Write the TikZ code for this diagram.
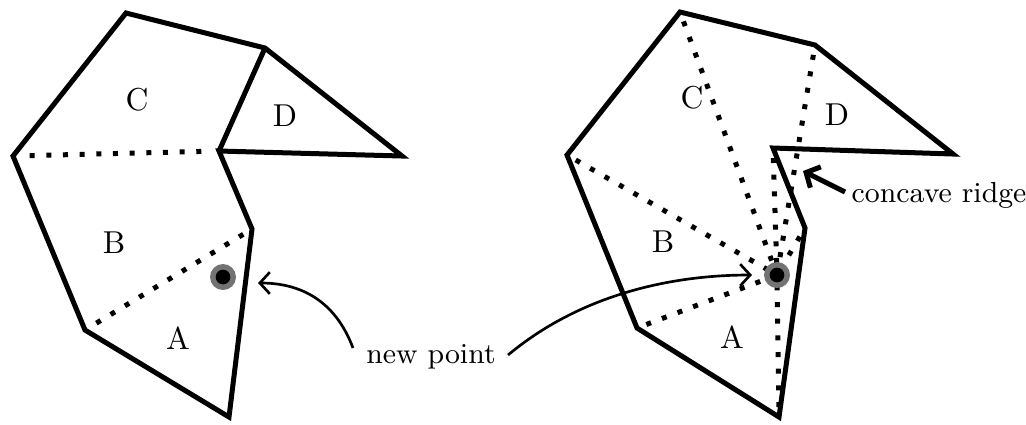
\documentclass[tikz,border=0pt]{standalone}
\usetikzlibrary{arrows.meta}

\begin{document}
\begin{tikzpicture}[
    x=0.3pt, y=-0.3pt,
    font=\fontsize{8.7}{10}\selectfont,
    edge/.style={line width=1.5pt, line join=miter},
    ridge/.style={line width=1.5pt, dash pattern=on 1.5pt off 3.5pt},
    lbl/.style={inner sep=0pt, font=\fontsize{9.5}{11}\selectfont},
    note/.style={inner sep=0pt, anchor=base},
    halo/.style={fill=black!55},
    arr/.style={-{Straight Barb[length=3pt, width=6.5pt]}, line width=0.8pt},
    thickarr/.style={-{Straight Barb[length=3.2pt, width=7pt]}, line width=1.5pt},
]
\useasboundingbox (0,0) rectangle (1026,424);

% left: before insertion
\coordinate (lp1) at (126,13);
\coordinate (lp2) at (265,48);
\coordinate (ltip) at (402,156);
\coordinate (lk) at (219,151);
\coordinate (lr) at (252,229);
\coordinate (lbot) at (229,417);
\coordinate (ll2) at (85,330);
\coordinate (ll1) at (13,156);
\coordinate (lq) at (223,277);

\draw[edge] (lp1) -- (lp2) -- (ltip) -- (lk) -- (lr) -- (lbot) -- (ll2) -- (ll1) -- cycle;
\draw[edge] (lp2) -- (lk);
\draw[ridge, shorten <=5pt, shorten >=4pt] (ll1) -- (lk);
\draw[ridge, shorten <=4pt, shorten >=3pt] (ll2) -- (lr);

\fill[halo] (lq) circle (3.9pt);
\fill (lq) circle (2.2pt);

\node[lbl] (lc) at (137,100) {C};
\node[lbl] (ld) at (285,116) {D};
\node[lbl] (lb) at (114,243) {B};
\node[lbl] (la) at (178,338) {A};

% right: after insertion
\coordinate (rp1) at (680,12);
\coordinate (rp2) at (815,45);
\coordinate (rtip) at (953,154);
\coordinate (rk) at (773,148);
\coordinate (rr) at (805,228);
\coordinate (rbot) at (779,417);
\coordinate (rl2) at (637,328);
\coordinate (rl1) at (567,155);
\coordinate (rq) at (777,275);

\draw[edge] (rp1) -- (rp2) -- (rtip) -- (rk) -- (rr) -- (rbot) -- (rl2) -- (rl1) -- cycle;
\foreach \v in {rp1, rp2, rk, rr, rbot, rl2, rl1}
  \draw[ridge, shorten <=3pt] (\v) -- (rq);

\fill[halo] (rq) circle (3.9pt);
\fill (rq) circle (2.2pt);

\node[lbl] (rc) at (692,98) {C};
\node[lbl] (rd) at (837,115) {D};
\node[lbl] (rb) at (663,242) {B};
\node[lbl] (ra) at (732,337) {A};

% annotations
\node[note] (newpt) at (431,363) {new point};
\coordinate (newl) at (353,348);
\coordinate (newr) at (508,355);
\draw[arr] (newl) .. controls (335,300) and (300,283) .. (258,283);
\draw[arr] (newr) .. controls (580,295) and (670,275) .. (752,275);

\node[note, anchor=base west] (conc) at (851,202) {concave ridge};
\coordinate (conct) at (845,192);
\draw[thickarr] (conct) -- (803,171);
\end{tikzpicture}
\end{document}
